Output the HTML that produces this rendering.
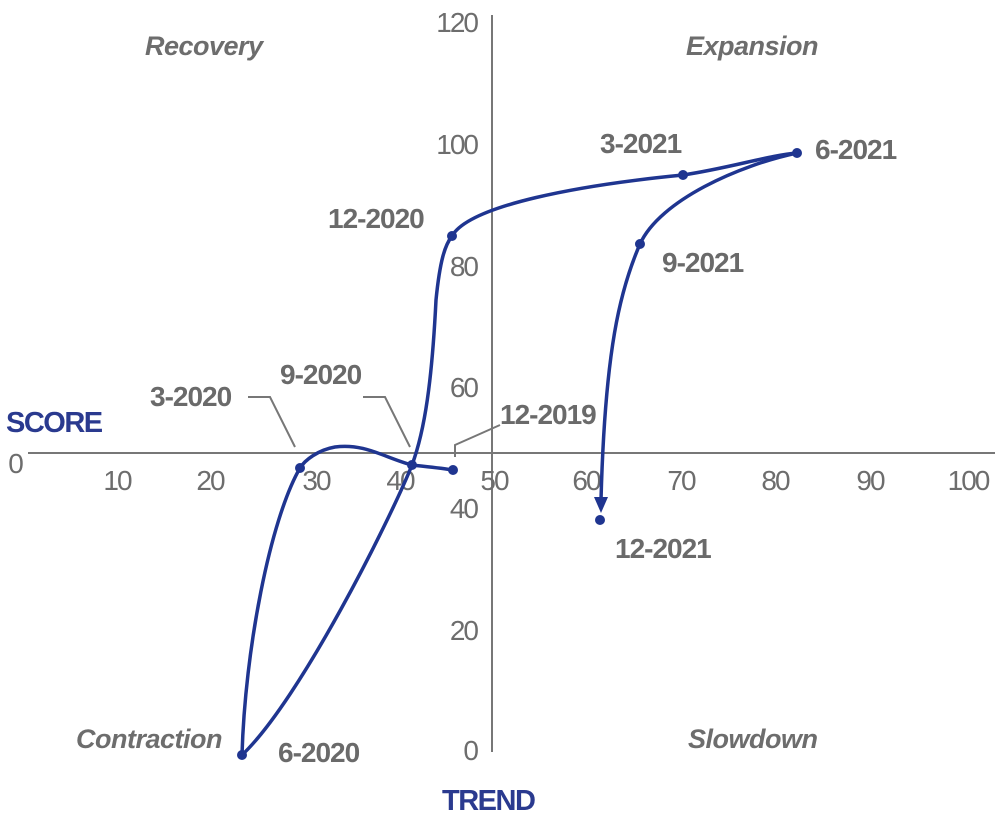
<!DOCTYPE html>
<html><head><style>
html,body{margin:0;padding:0;background:#fff;}
svg{display:block;font-family:"Liberation Sans",Arial,sans-serif;}
.t{fill:#6d6d6d;font-size:28px;letter-spacing:-2px;}
.d{fill:#6a6a6a;font-size:28px;font-weight:bold;letter-spacing:-1px;}
.q{fill:#6d6d6d;font-size:27px;font-style:italic;font-weight:bold;letter-spacing:-0.5px;}
.a{fill:#2a3a8f;font-size:29px;font-weight:bold;letter-spacing:-1.5px;}
</style></head><body>
<svg width="1000" height="821" viewBox="0 0 1000 821">
<line x1="28" y1="453" x2="995" y2="453" stroke="#777" stroke-width="2"/>
<line x1="492" y1="15" x2="492" y2="752" stroke="#777" stroke-width="2"/>
<g class="t" text-anchor="end">
<text x="477" y="32">120</text>
<text x="477" y="154">100</text><text x="477" y="276">80</text><text x="477" y="397">60</text>
<text x="477" y="518">40</text><text x="477" y="640">20</text><text x="477" y="760">0</text>
</g>
<g class="t" text-anchor="middle">
<text x="15" y="473">0</text><text x="117" y="490">10</text><text x="210" y="490">20</text>
<text x="316" y="490">30</text><text x="400" y="490">40</text><text x="494" y="490">50</text>
<text x="586" y="490">60</text><text x="681" y="490">70</text><text x="775" y="490">80</text>
<text x="870" y="490">90</text><text x="968" y="490">100</text>
</g>
<g class="q">
<text x="145" y="55">Recovery</text><text x="686" y="55">Expansion</text>
<text x="76" y="748">Contraction</text><text x="688" y="748">Slowdown</text>
</g>
<text class="a" x="6" y="432">SCORE</text>
<text class="a" x="442" y="810">TREND</text>
<g stroke="#777" stroke-width="2" fill="none">
<polyline points="248,397 270,397 295,447"/>
<polyline points="363,397 385,397 410,447"/>
<polyline points="455,457 455,445 500,425"/>
</g>
<g stroke="#1f3590" stroke-width="3.5" fill="none">
<path d="M453,470 C440,468 420,466 412,465 C385,458 365,443 335,447 C318,450 305,460 300,468"/>
<path d="M300,468 C270,520 245,650 242,755"/>
<path d="M242,755 C300,700 390,520 412,465 C425,430 432,380 436,300 C440,260 445,245 452,236"/>
<path d="M452,236 C470,205 580,185 683,175 C730,168 770,155 797,153"/>
<path d="M797,153 C740,165 660,200 640,244 C620,290 605,350 601,500"/>
</g>
<polygon points="594,497 608,497 601,513" fill="#1f3590"/>
<g fill="#1f3590">
<circle cx="453" cy="470" r="5"/><circle cx="300" cy="468" r="5"/><circle cx="242" cy="755" r="5"/>
<circle cx="412" cy="465" r="5"/><circle cx="452" cy="236" r="5"/><circle cx="683" cy="175" r="5"/>
<circle cx="797" cy="153" r="5"/><circle cx="640" cy="244" r="5"/><circle cx="600" cy="520" r="5"/>
</g>
<g class="d">
<text x="150" y="406">3-2020</text><text x="280" y="384">9-2020</text><text x="500" y="424">12-2019</text>
<text x="328" y="228">12-2020</text><text x="600" y="153">3-2021</text><text x="815" y="159">6-2021</text>
<text x="662" y="272">9-2021</text><text x="615" y="558">12-2021</text><text x="278" y="762">6-2020</text>
</g>
</svg>
</body></html>
